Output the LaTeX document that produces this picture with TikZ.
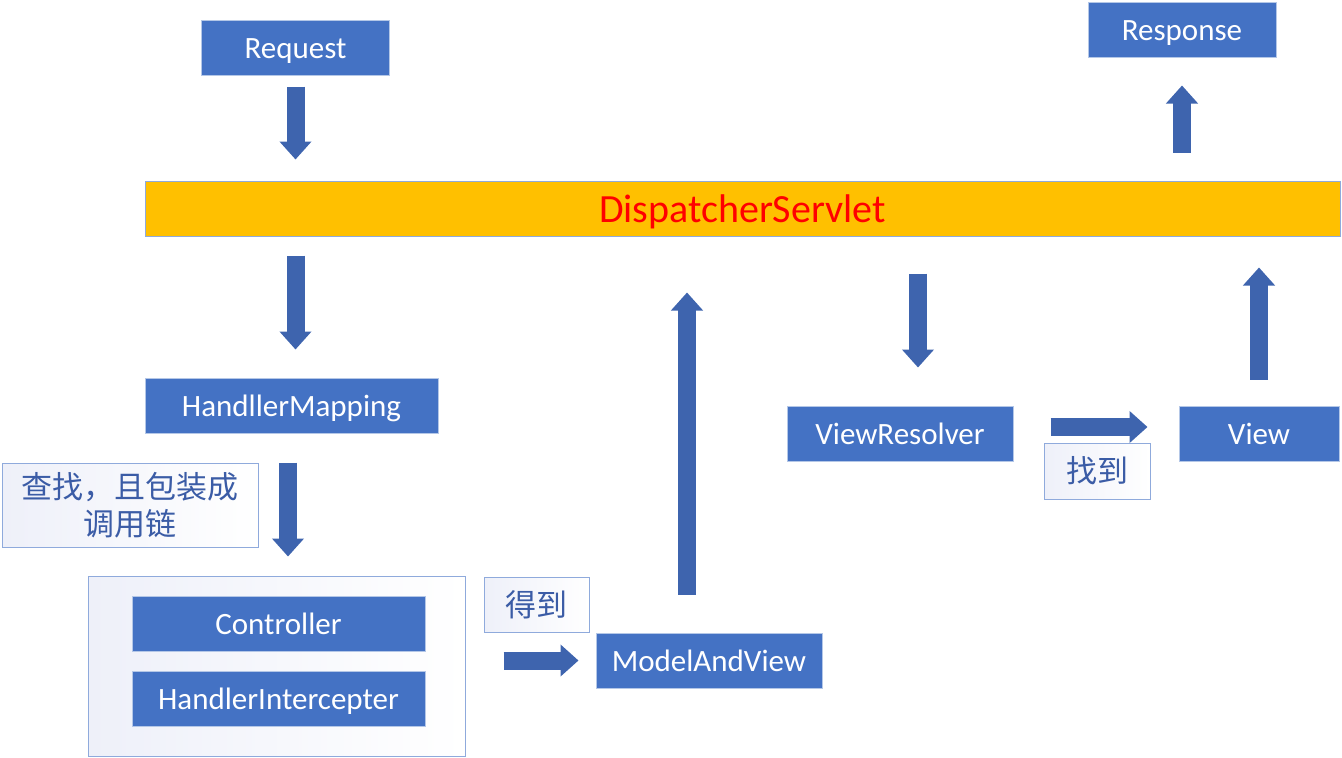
\documentclass[tikz,border=0pt]{standalone}
\usepackage{fontspec}
\setmainfont{Carlito}
\newfontfamily\cjk{Noto Sans CJK SC}
\usetikzlibrary{arrows.meta,calc,positioning}
\tikzset{
  boxnode/.style = {rectangle, line width=1pt, inner sep=0pt, font=\fontsize{31}{37}\selectfont},
  blue_n/.style = {boxnode, draw=my_edge, fill=my_blue, text=white, minimum height=55pt,
  text height=25pt, text depth=3pt},
  label_n/.style = {boxnode, align=center, draw=my_line, left color=my_lav, right color=white,
  text=my_text, font=\fontsize{31}{37}\selectfont\cjk}
}
\definecolor{my_blue}{RGB}{68, 114, 196}
\definecolor{my_edge}{RGB}{180, 199, 231}
\definecolor{my_line}{RGB}{143, 170, 220}
\definecolor{my_arrow}{RGB}{62, 100, 174}
\definecolor{my_gold}{RGB}{255, 192, 0}
\definecolor{my_red}{RGB}{255, 0, 0}
\definecolor{my_text}{RGB}{59, 92, 166}
\definecolor{my_lav}{RGB}{238, 240, 249}

\begin{document}
\begin{tikzpicture}[x=1pt, y=-1pt,
        	big_arrow/.style={draw=my_arrow, line width=18pt, -{Triangle[length=18pt, width=31pt]}},
        	bar/.style={boxnode, draw=my_line, fill=my_gold, text=my_red, minimum height=55pt,
        	font=\fontsize{40}{44}\selectfont, text height=32pt, text depth=4pt}]
		    \useasboundingbox (0,0) rectangle (1342,758);
		    \node [blue_n, minimum width=188pt] (req) at (295.5,47.5) {Request};
		    \node [blue_n, minimum width=188pt] (resp) at (1182,29.5) {Response};
		    \node [bar, minimum width=1195pt] (ds) at (742.5,208.5) {DispatcherServlet};
		    \node [blue_n, minimum width=293pt] (hm) at (291.5,405.5) {HandllerMapping};
		    \node [label_n, minimum width=256pt, minimum height=84pt] (find) at (130,505) {查找，且包装成\\调用链};
		    \node [label_n, minimum width=377pt, minimum height=180pt] (chain) at (276.5,666) {};
		    \node [blue_n, minimum width=293pt] (ctrl) at (278.5,623.5) {Controller};
		    \node [blue_n, minimum width=293pt] (intc) at (278.5,698.5) {HandlerIntercepter};
		    \node [label_n, minimum width=105pt, minimum height=55pt] (got) at (536.5,604.5) {得到};
		    \node [blue_n, minimum width=226pt] (mav) at (709,660.5) {ModelAndView};
		    \node [blue_n, minimum width=226pt] (vr) at (900,433.5) {ViewResolver};
		    \node [blue_n, minimum width=160pt] (view) at (1259,433.5) {View};
		    \node [label_n, minimum width=106pt, minimum height=56pt] (found) at (1097,471) {找到};
		    \draw[big_arrow, shorten <=11pt, shorten >=21pt] (req.south) -- (req.south |- ds.north);
		    \draw[big_arrow, shorten <=19pt, shorten >=28pt] (req.south |- ds.south) -- (req.south |- hm.north);
		    \draw[big_arrow, shorten <=29pt, shorten >=19pt] ($(hm.south)+(-3.5,0)$) -- ($(hm.south |- chain.north)+(-3.5,0)$);
		    \draw[big_arrow, shorten <=38pt, shorten >=17pt] (chain.east |- mav.west) -- (mav.west);
		    \draw[big_arrow, shorten <=38pt, shorten >=56pt] ($(mav.north)+(-22,0)$) -- ($(mav.north |- ds.south)+(-22,0)$);
		    \draw[big_arrow, shorten <=37pt, shorten >=38pt] ($(vr.north |- ds.south)+(18,0)$) -- ($(vr.north)+(18,0)$);
		    \draw[big_arrow, shorten <=37pt, shorten >=31pt] ($(vr.east)+(0,-6.5)$) -- ($(view.west)+(0,-6.5)$);
		    \draw[big_arrow, shorten <=26pt, shorten >=31pt] (view.north) -- (view.north |- ds.south);
		    \draw[big_arrow, shorten <=28pt, shorten >=28pt] (resp.south |- ds.north) -- (resp.south);
		\end{tikzpicture}
\end{document}
